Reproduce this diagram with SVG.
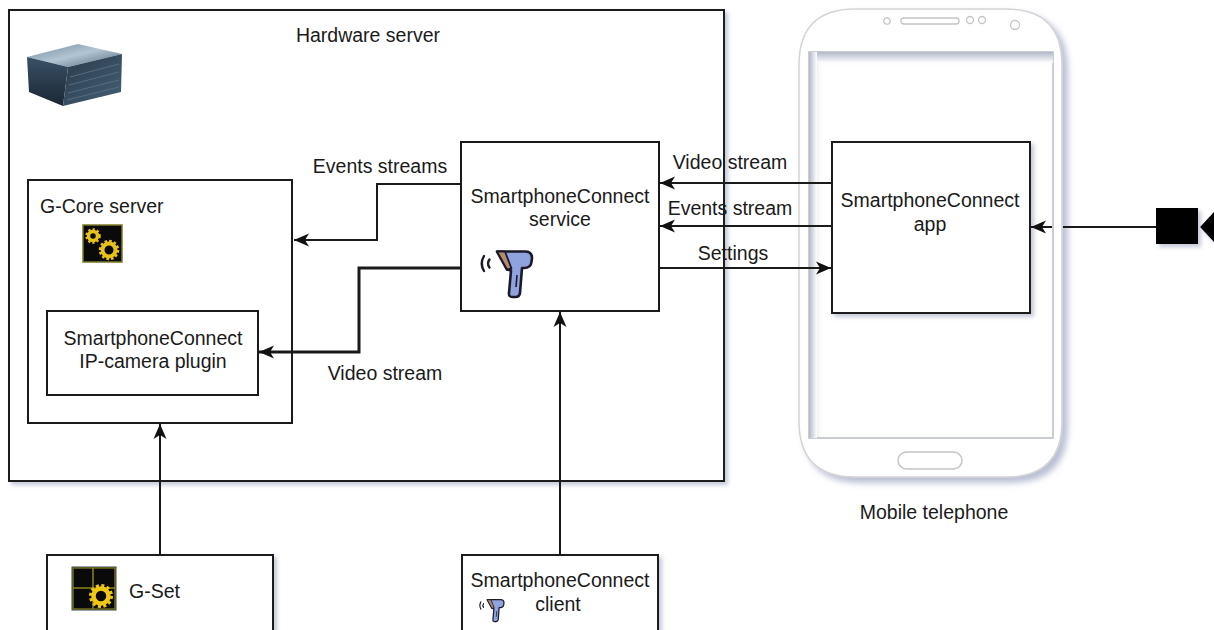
<svg xmlns="http://www.w3.org/2000/svg" width="1214" height="630" viewBox="0 0 1214 630">
  <defs>
    <style>
      .box { fill: #ffffff; stroke: #1a1a1a; stroke-width: 2; }
      .lbl { font-family: "Liberation Sans", Arial, sans-serif; font-size: 19.5px; fill: #1a1a1a; }
      .mid { text-anchor: middle; }
      .edge { fill: none; stroke: #1a1a1a; stroke-width: 2; }
      .thick { stroke-width: 3; }
    </style>
    <filter id="shadow" x="-10%" y="-10%" width="130%" height="130%">
      <feDropShadow dx="3" dy="3" stdDeviation="2" flood-color="#7a84a8" flood-opacity="0.45"/>
    </filter>
    <filter id="phoneShadow" x="-10%" y="-10%" width="130%" height="130%">
      <feDropShadow dx="5" dy="5" stdDeviation="3" flood-color="#8088b0" flood-opacity="0.55"/>
    </filter>
    <marker id="arrow" viewBox="0 0 16 14" markerWidth="16" markerHeight="14" refX="15" refY="7" orient="auto" markerUnits="userSpaceOnUse">
      <path d="M0,0.5 L15,7 L0,13.5 L4,7 Z" fill="#111"/>
    </marker>
    <linearGradient id="srvTop" x1="0" y1="0" x2="1" y2="1">
      <stop offset="0" stop-color="#6f8aa0"/>
      <stop offset="0.5" stop-color="#b3c5d3"/>
      <stop offset="1" stop-color="#4d6478"/>
    </linearGradient>
    <linearGradient id="srvSide" x1="0" y1="0" x2="0" y2="1">
      <stop offset="0" stop-color="#3a5166"/>
      <stop offset="1" stop-color="#1b2633"/>
    </linearGradient>
    <linearGradient id="srvFront" x1="0" y1="0" x2="1" y2="1">
      <stop offset="0" stop-color="#2a3a4a"/>
      <stop offset="1" stop-color="#456076"/>
    </linearGradient>
    <linearGradient id="screenTop" x1="0" y1="0" x2="0" y2="1">
      <stop offset="0" stop-color="#b3b8c9"/>
      <stop offset="1" stop-color="#ffffff"/>
    </linearGradient>
    <linearGradient id="screenLeft" x1="0" y1="0" x2="1" y2="0">
      <stop offset="0" stop-color="#b3b8c9"/>
      <stop offset="1" stop-color="#ffffff"/>
    </linearGradient>
    <!-- handheld barcode scanner glyph, about 54x48 -->
    <g id="scanner">
      <path d="M4,6 Q-0.5,13.5 4,21" fill="none" stroke="#1a1a2a" stroke-width="2.4" stroke-linecap="round"/>
      <path d="M9.5,9.5 Q6.5,13.5 9.5,17.5" fill="none" stroke="#1a1a2a" stroke-width="2.4" stroke-linecap="round"/>
      <path d="M17,1.5 L45,1.5 Q52,1.5 52,8 L51.5,12 Q51,18 44,18 L42,18 L40,43 Q39.5,47 35.5,47 L32.5,47 Q28.5,47 29,43 L31,20.5 L27,19.5 Z" fill="#8fa3de" stroke="#1a1a2a" stroke-width="2.6" stroke-linejoin="round"/>
      <path d="M17,1.5 L25,1.5 L31.5,18.5 L27,19.5 Z" fill="#b48b6c" stroke="#1a1a2a" stroke-width="1.8" stroke-linejoin="round"/>
      <path d="M37,25 L36,37" fill="none" stroke="#1a1a2a" stroke-width="1.6"/>
    </g>
  </defs>

  <!-- Mobile telephone -->
  <g id="phone">
    <path d="M855,9 L1006,9 Q1062,9 1062,65 L1062,421 Q1062,477 1006,477 L855,477 Q799,477 799,421 L799,65 Q799,9 855,9 Z M809,52 L809,438 L1053,438 L1053,52 Z" fill="#ffffff" fill-rule="evenodd" stroke="#d4d4d8" stroke-width="1.5" filter="url(#phoneShadow)"/>
    <rect x="809" y="52" width="244" height="386" fill="none" stroke="#c4c7d0" stroke-width="1.5"/>
    <rect x="809" y="52" width="244" height="11" fill="url(#screenTop)"/>
    <rect x="809" y="52" width="8" height="386" fill="url(#screenLeft)"/>
    <circle cx="887" cy="21" r="3.2" fill="none" stroke="#c4c4c8" stroke-width="1.3"/>
    <rect x="901" y="18" width="58" height="6" rx="3" fill="none" stroke="#c4c4c8" stroke-width="1.3"/>
    <circle cx="970" cy="20" r="3.5" fill="none" stroke="#c4c4c8" stroke-width="1.3"/>
    <circle cx="982" cy="20" r="3.5" fill="none" stroke="#c4c4c8" stroke-width="1.3"/>
    <circle cx="1015" cy="25" r="4.5" fill="none" stroke="#c4c4c8" stroke-width="1.3"/>
    <rect x="898" y="452" width="64" height="17" rx="8.5" fill="none" stroke="#c4c4c8" stroke-width="1.5"/>
    <text class="lbl mid" x="934" y="519">Mobile telephone</text>
  </g>

  <!-- Hardware server container -->
  <g id="hardware-server">
    <rect class="box" x="9" y="10" width="715" height="471" filter="url(#shadow)"/>
    <text class="lbl mid" x="368" y="42">Hardware server</text>
    <!-- rack server picture -->
    <g id="server-picture">
      <path d="M27,57 L78,44 L122,54 L68,67 Z" fill="url(#srvTop)"/>
      <path d="M27,57 L68,67 L63,106 L29,92 Z" fill="url(#srvSide)"/>
      <path d="M68,67 L122,54 L121,92 L63,106 Z" fill="url(#srvFront)"/>
      <g stroke="#5d7488" stroke-width="1" opacity="0.8">
        <path d="M70,77 L119,64"/>
        <path d="M69,85 L119,72"/>
        <path d="M68,93 L119,80"/>
        <path d="M67,100 L119,87"/>
      </g>
    </g>
  </g>

  <!-- G-Core server -->
  <g id="g-core-server">
    <rect class="box" x="28" y="180" width="264" height="243"/>
    <text class="lbl" x="40" y="213">G-Core server</text>
    <g id="g-core-icon">
      <rect x="83" y="225" width="39" height="37" fill="#0a0a0a" stroke="#7d7a2a" stroke-width="1.5"/>
      <circle cx="93" cy="236" r="4.5" fill="none" stroke="#e8c21a" stroke-width="3.5"/>
      <circle cx="93" cy="236" r="6.5" fill="none" stroke="#e8c21a" stroke-width="2.5" stroke-dasharray="2.2 2"/>
      <circle cx="109" cy="250" r="6.5" fill="none" stroke="#e8c21a" stroke-width="4"/>
      <circle cx="109" cy="250" r="9" fill="none" stroke="#e8c21a" stroke-width="2.5" stroke-dasharray="2.6 2.1"/>
    </g>
  </g>

  <!-- IP-camera plugin -->
  <g id="ip-camera-plugin">
    <rect class="box" x="47" y="311" width="211" height="84"/>
    <text class="lbl mid" x="153" y="345">SmartphoneConnect</text>
    <text class="lbl mid" x="153" y="368">IP-camera plugin</text>
  </g>

  <!-- SmartphoneConnect service -->
  <g id="smartphoneconnect-service">
    <rect class="box" x="461" y="142" width="198" height="169"/>
    <text class="lbl mid" x="560" y="203">SmartphoneConnect</text>
    <text class="lbl mid" x="560" y="226">service</text>
    <use href="#scanner" x="480" y="250"/>
  </g>

  <!-- SmartphoneConnect app -->
  <g id="smartphoneconnect-app">
    <rect class="box" x="832" y="142" width="198" height="171" filter="url(#shadow)"/>
    <text class="lbl mid" x="930" y="207">SmartphoneConnect</text>
    <text class="lbl mid" x="930" y="231">app</text>
  </g>

  <!-- Video camera -->
  <g id="video-camera" filter="url(#shadow)">
    <rect x="1156" y="208" width="42" height="36" fill="#000"/>
    <path d="M1214,212 L1200,227 L1214,242 Z" fill="#000"/>
  </g>

  <!-- G-Set -->
  <g id="g-set">
    <rect class="box" x="47" y="555" width="226" height="85" filter="url(#shadow)"/>
    <g id="g-set-icon">
      <rect x="72" y="567" width="44" height="43" fill="#0a0a0a" stroke="#34495e" stroke-width="1"/>
      <path d="M93,568 L93,609 M73,588 L115,588" stroke="#8a8420" stroke-width="1.5"/>
      <rect x="73" y="568" width="42" height="41" fill="none" stroke="#8a8420" stroke-width="1.2"/>
      <circle cx="101" cy="596" r="7.5" fill="none" stroke="#f0c814" stroke-width="4.5"/>
      <circle cx="101" cy="596" r="10.5" fill="none" stroke="#f0c814" stroke-width="3" stroke-dasharray="3 2.5"/>
    </g>
    <text class="lbl" x="129" y="598">G-Set</text>
  </g>

  <!-- SmartphoneConnect client -->
  <g id="smartphoneconnect-client">
    <rect class="box" x="462" y="555" width="196" height="85" filter="url(#shadow)"/>
    <text class="lbl mid" x="560" y="587">SmartphoneConnect</text>
    <text class="lbl mid" x="558" y="611">client</text>
    <use href="#scanner" transform="translate(479,599) scale(0.48)"/>
  </g>

  <!-- Connectors -->
  <g id="connectors">
    <path class="edge" d="M461,184 L377,184 L377,240 L294,240" marker-end="url(#arrow)"/>
    <path class="edge thick" d="M461,268 L359,268 L359,352 L259,352" marker-end="url(#arrow)"/>
    <path class="edge" d="M831,183 L660,183" marker-end="url(#arrow)"/>
    <path class="edge" d="M831,226 L660,226" marker-end="url(#arrow)"/>
    <path class="edge" d="M659,268 L831,268" marker-end="url(#arrow)"/>
    <path class="edge" d="M160,555 L160,424" marker-end="url(#arrow)"/>
    <path class="edge" d="M560,555 L560,312" marker-end="url(#arrow)"/>
    <path class="edge" d="M1156,227 L1063,227"/>
    <path class="edge" d="M1052,227 L1031,227" marker-end="url(#arrow)"/>
    <text class="lbl mid" x="380" y="173">Events streams</text>
    <text class="lbl mid" x="385" y="380">Video stream</text>
    <text class="lbl mid" x="730" y="169">Video stream</text>
    <text class="lbl mid" x="730" y="215">Events stream</text>
    <text class="lbl mid" x="733" y="260">Settings</text>
  </g>
</svg>
